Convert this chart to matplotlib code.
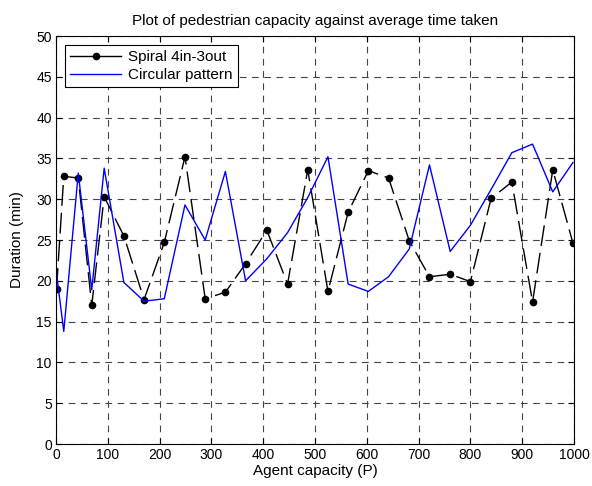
import matplotlib
matplotlib.use("Agg")
import matplotlib.pyplot as plt
from matplotlib.lines import Line2D

plt.rcParams['font.family'] = ['Liberation Sans', 'DejaVu Sans']

capacity = [1, 15, 43, 69, 93, 131, 170, 209, 249, 288, 327, 366, 407, 447,
            486, 525, 564, 603, 642, 682, 721, 761, 800, 840, 880, 920, 959, 998]

spiral = [19.0, 32.8, 32.6, 17.0, 30.3, 25.5, 17.7, 24.7, 35.2, 17.8, 18.6,
          22.1, 26.2, 19.6, 33.6, 18.7, 28.4, 33.5, 32.6, 24.9, 20.5, 20.8,
          19.9, 30.1, 32.1, 17.4, 33.6, 24.6]

circular = [20.9, 13.8, 33.2, 18.9, 33.8, 19.8, 17.5, 17.8, 29.3, 25.0, 33.4,
            20.0, 22.7, 25.9, 30.2, 35.2, 19.6, 18.7, 20.5, 23.9, 34.2, 23.6,
            26.8, 31.2, 35.7, 36.75, 30.9, 34.5]

fig = plt.figure(figsize=(5.92, 4.86), dpi=100)
ax = fig.add_axes([56/592, 1-444/486, (574-56)/592, (444-36)/486])

ax.plot(capacity, spiral, color='black', linewidth=1.0,
        linestyle=(0, (15, 5)), marker='o', markersize=4.5)
ax.plot(capacity, circular, color='blue', linewidth=1.0)

ax.set_xlim(0, 1000)
ax.set_ylim(0, 50)
ax.set_xticks(range(0, 1001, 100))
ax.set_yticks(range(0, 51, 5))
ax.tick_params(direction='in', length=4, labelsize=10, top=True, right=True,
               width=0.8, pad=3)
ax.grid(True, color='#444444', linestyle=(0, (6, 5)), linewidth=0.8)
for s in ax.spines.values():
    s.set_linewidth(0.8)

ax.set_title('Plot of pedestrian capacity against average time taken',
             fontsize=11, pad=8)
ax.set_xlabel('Agent capacity (P)', fontsize=11, labelpad=1)
ax.set_ylabel('Duration (min)', fontsize=11, labelpad=9)

handles = [Line2D([0], [0], color='black', lw=1.0, marker='o', markersize=4.5),
           Line2D([0], [0], color='blue', lw=1.0)]
leg = ax.legend(handles, ['Spiral 4in-3out', 'Circular pattern'],
                loc='upper left', bbox_to_anchor=(9/518, 0.978),
                fontsize=11, frameon=True, fancybox=False, framealpha=1,
                edgecolor='black', borderpad=0.35, handlelength=3.3,
                labelspacing=0.25, borderaxespad=0, handletextpad=0.5)
leg.get_frame().set_linewidth(0.8)

fig.savefig('out.png', dpi=100)
